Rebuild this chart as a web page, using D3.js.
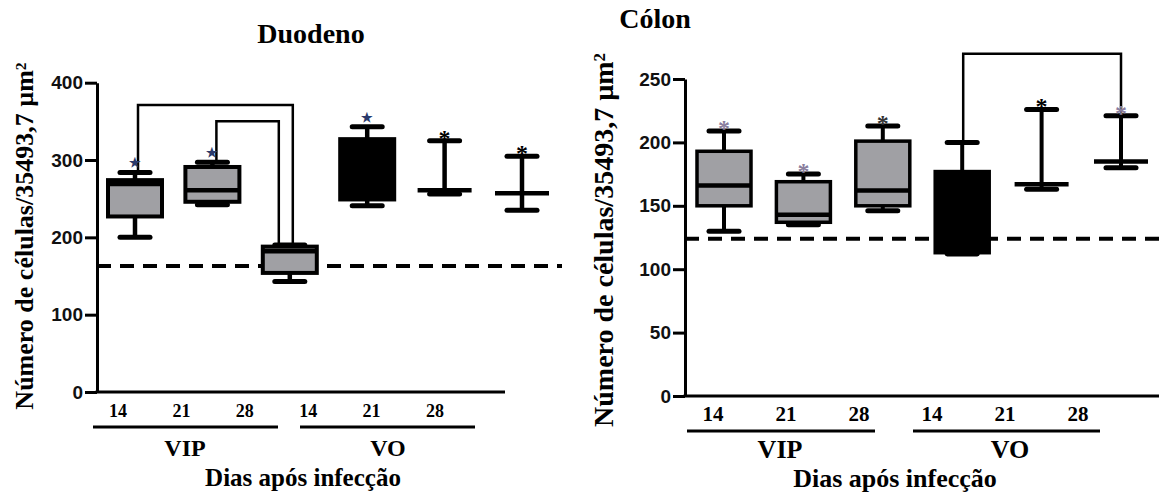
<!DOCTYPE html>
<html>
<head>
<meta charset="utf-8">
<script src="https://cdn.jsdelivr.net/npm/d3@7.9.0/dist/d3.min.js"></script>
<style>
  body { margin: 0; background: #fff; }
  svg { display: block; }
  .serif { font-family: 'Liberation Serif', 'Times New Roman', serif; font-weight: bold; }
  .axis text { font-family: 'Liberation Sans', Arial, sans-serif; font-weight: bold; font-size: 19px; fill: #111; }
  .axis path, .axis line { stroke: #000; stroke-width: 3; }
</style>
</head>
<body>
<div id="chart"></div>
<script>
const categories = ['VIP14', 'VIP21', 'VIP28', 'VO14', 'VO21', 'VO28'];
const dayLabels = ['14', '21', '28', '14', '21', '28'];
const groupLabels = ['VIP', 'VO'];
const boxFill = ['#a0a0a4', '#a0a0a4', '#a0a0a4', '#000', '#000', '#000'];

// Duodeno
const duoMin    = [200, 242, 143, 241, 256, 235];
const duoQ1     = [227, 246, 154, 249, 261, 257];
const duoMedian = [269, 261, 182, 290, 261, 257];
const duoQ3     = [274, 291, 188, 327, 261, 257];
const duoMax    = [284, 297, 190, 343, 325, 305];
const duoBaseline = 163;
const duoTicks = [0, 100, 200, 300, 400];
const duoStars = ['★', '★', '', '★', '*', '*'];
const duoStarColor = ['#2b3a6b', '#2b3a6b', '', '#2b3a6b', '#000', '#000'];
// [from, to, height, dx from, dx to]
const duoBrackets = [[0, 2, 371, 3, 3], [1, 2, 350, 4, -11]];

// Cólon
const colMin    = [130, 135, 146, 112, 163, 180];
const colQ1     = [150, 137, 150, 113, 167, 185];
const colMedian = [166, 143, 162, 140, 167, 185];
const colQ3     = [193, 169, 201, 177, 167, 185];
const colMax    = [209, 175, 213, 200, 226, 221];
const colBaseline = 124;
const colTicks = [0, 50, 100, 150, 200, 250];
const colStars = ['*', '*', '*', '', '*', '*'];
const colStarColor = ['#8a7e9e', '#8a7e9e', '#333', '', '#000', '#8a7e9e'];
const colBrackets = [[3, 5, 270, 1, 0]];

const width = 1159, height = 498;
const svg = d3.select('#chart').append('svg')
  .attr('width', width).attr('height', height);

function drawPanel(p, data) {
  const g = svg.append('g');
  const y = d3.scaleLinear().domain(p.yDomain).range(p.yRange);
  const x = d3.scalePoint().domain(categories).range(p.boxRange);
  const xl = d3.scalePoint().domain(categories).range(p.labelRange);

  // title
  g.append('text').attr('class', 'serif')
    .attr('x', p.titleX).attr('y', p.titleY)
    .attr('text-anchor', 'middle').attr('font-size', p.titleSize)
    .text(p.title);

  // y title
  g.append('text').attr('class', 'serif')
    .attr('transform', `translate(${p.yTitleX},${p.yTitleY}) rotate(-90)`)
    .attr('text-anchor', 'middle').attr('font-size', p.yTitleSize)
    .html('Número de células/35493,7 µm<tspan dy="-0.45em" font-size="0.6em">2</tspan>');

  // dashed baseline
  g.append('line')
    .attr('x1', p.axisX).attr('x2', p.dashEnd)
    .attr('y1', y(data.baseline)).attr('y2', y(data.baseline))
    .attr('stroke', '#000').attr('stroke-width', 4)
    .attr('stroke-dasharray', '14 9');

  // brackets
  g.append('g').selectAll('path')
    .data(data.brackets)
    .join('path')
    .attr('fill', 'none').attr('stroke', '#000').attr('stroke-width', 2.5)
    .attr('d', ([a, b, h, da, db]) => {
      const xa = x(categories[a]) + da, xb = x(categories[b]) + db;
      return `M${xa},${y(data.max[a])}V${y(h)}H${xb}V${y(data.max[b])}`;
    });

  const boxes = g.append('g').selectAll('g')
    .data(categories.map((c, i) => ({
      c, i, min: data.min[i], q1: data.q1[i], median: data.median[i],
      q3: data.q3[i], max: data.max[i]
    })))
    .join('g')
    .attr('transform', d => `translate(${x(d.c)},0)`);

  boxes.append('line')
    .attr('y1', d => y(d.max)).attr('y2', d => y(d.min))
    .attr('stroke', '#000').attr('stroke-width', p.whiskerW);

  boxes.filter(d => d.q3 > d.q1).append('rect')
    .attr('x', -p.boxW / 2).attr('width', p.boxW)
    .attr('y', d => y(d.q3)).attr('height', d => y(d.q1) - y(d.q3))
    .attr('fill', d => boxFill[d.i])
    .attr('stroke', '#000').attr('stroke-width', p.boxStroke);

  boxes.append('line')
    .attr('x1', -p.boxW / 2).attr('x2', p.boxW / 2)
    .attr('y1', d => y(d.median)).attr('y2', d => y(d.median))
    .attr('stroke', '#000').attr('stroke-width', 4.5);

  ['min', 'max'].forEach(k => {
    boxes.append('line')
      .attr('x1', -p.capW / 2).attr('x2', p.capW / 2)
      .attr('y1', d => y(d[k])).attr('y2', d => y(d[k]))
      .attr('stroke', '#000').attr('stroke-width', 5)
      .attr('stroke-linecap', 'round');
  });

  boxes.append('text').attr('class', 'serif')
    .attr('y', d => y(d.max) - 10)
    .attr('dy', d => data.stars[d.i] === '★' ? '0.38em' : '0.62em')
    .attr('text-anchor', 'middle')
    .attr('font-size', d => data.stars[d.i] === '★' ? 13 : 24)
    .attr('fill', d => data.starColor[d.i])
    .text(d => data.stars[d.i]);

  // axes
  g.append('g').attr('class', 'axis')
    .attr('transform', `translate(${p.axisX},0)`)
    .call(d3.axisLeft(y).tickValues(data.ticks).tickSize(12).tickSizeOuter(0).tickPadding(2));

  g.append('line')
    .attr('x1', p.axisX - 1.5).attr('x2', p.axisEnd)
    .attr('y1', y(0)).attr('y2', y(0))
    .attr('stroke', '#000').attr('stroke-width', 3);

  // day labels
  g.append('g').selectAll('text')
    .data(categories)
    .join('text').attr('class', 'serif')
    .attr('x', d => xl(d)).attr('y', p.labelY)
    .attr('text-anchor', 'middle').attr('font-size', p.labelSize)
    .text((d, i) => dayLabels[i]);

  // group lines and labels
  [p.vipLine, p.voLine].forEach((ext, i) => {
    g.append('line')
      .attr('x1', ext[0]).attr('x2', ext[1])
      .attr('y1', p.lineY).attr('y2', p.lineY)
      .attr('stroke', '#000').attr('stroke-width', 3);
    g.append('text').attr('class', 'serif')
      .attr('x', p.groupX[i]).attr('y', p.groupY)
      .attr('text-anchor', 'middle').attr('font-size', p.groupSize)
      .text(groupLabels[i]);
  });

  g.append('text').attr('class', 'serif')
    .attr('x', p.xTitleX).attr('y', p.xTitleY)
    .attr('text-anchor', 'middle').attr('font-size', p.xTitleSize)
    .text('Dias após infecção');
}

drawPanel({
  title: 'Duodeno', titleX: 311, titleY: 43, titleSize: 28,
  yDomain: [0, 400], yRange: [392, 82.7],
  axisX: 97, axisEnd: 505, dashEnd: 562,
  boxRange: [135, 522], labelRange: [118, 435], labelY: 417, labelSize: 18,
  vipLine: [93, 278], voLine: [300, 475], lineY: 427,
  groupX: [185, 388], groupY: 456, groupSize: 24,
  xTitleX: 303, xTitleY: 486, xTitleSize: 25,
  yTitleX: 33, yTitleY: 236, yTitleSize: 26,
  boxW: 54, capW: 30, boxStroke: 4, whiskerW: 4.5
}, {
  min: duoMin, q1: duoQ1, median: duoMedian, q3: duoQ3, max: duoMax,
  baseline: duoBaseline, ticks: duoTicks, stars: duoStars,
  starColor: duoStarColor, brackets: duoBrackets
});

drawPanel({
  title: 'Cólon', titleX: 655, titleY: 28, titleSize: 28,
  yDomain: [0, 250], yRange: [396, 79],
  axisX: 685, axisEnd: 1159, dashEnd: 1159,
  boxRange: [724, 1121], labelRange: [713, 1078], labelY: 421, labelSize: 21,
  vipLine: [687, 875], voLine: [913, 1100], lineY: 431,
  groupX: [780, 1010], groupY: 458, groupSize: 26,
  xTitleX: 895, xTitleY: 487, xTitleSize: 26,
  yTitleX: 613, yTitleY: 240, yTitleSize: 28,
  boxW: 54, capW: 30, boxStroke: 3.5, whiskerW: 4
}, {
  min: colMin, q1: colQ1, median: colMedian, q3: colQ3, max: colMax,
  baseline: colBaseline, ticks: colTicks, stars: colStars,
  starColor: colStarColor, brackets: colBrackets
});
</script>
</body>
</html>
